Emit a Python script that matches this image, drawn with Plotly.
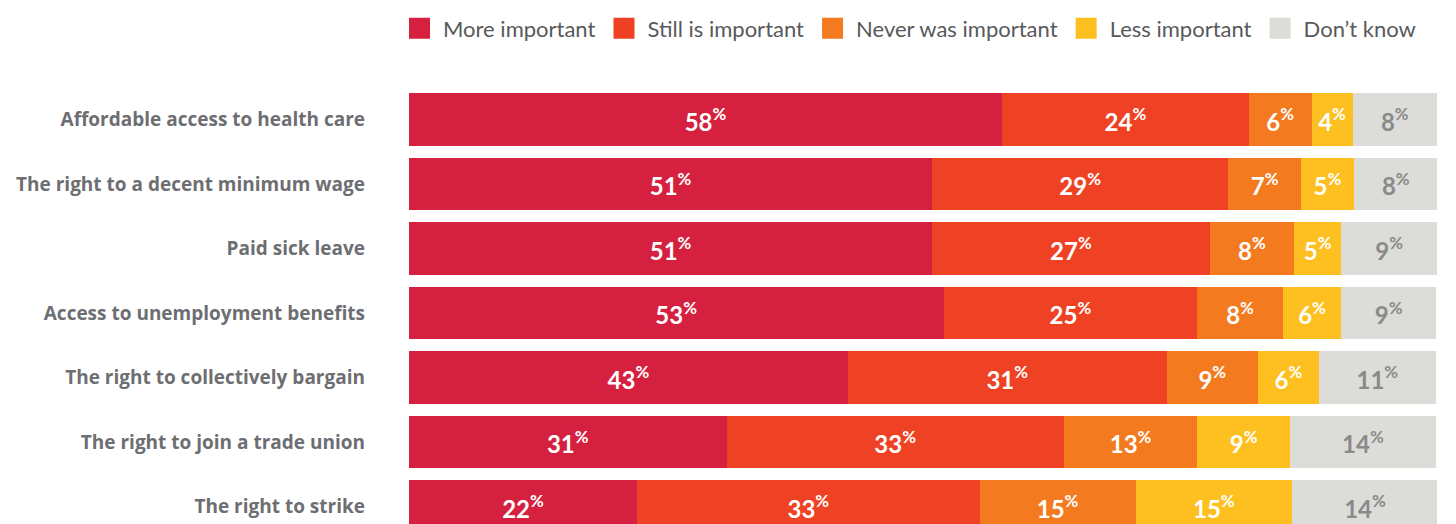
import plotly.graph_objects as go

categories = [
    "Affordable access to health care",
    "The right to a decent minimum wage",
    "Paid sick leave",
    "Access to unemployment benefits",
    "The right to collectively bargain",
    "The right to join a trade union",
    "The right to strike",
]

series_names = ["More important", "Still is important", "Never was important",
                "Less important", "Don\u2019t know"]

# segment widths (percent)
more_important = [57.7, 50.9, 50.9, 52.0, 42.7, 30.9, 22.2]
still_important = [24.0, 28.8, 27.0, 24.7, 31.0, 32.8, 33.3]
never_important = [6.1, 7.1, 8.2, 8.3, 8.9, 13.0, 15.2]
less_important = [4.0, 5.1, 4.6, 5.7, 5.9, 9.0, 15.2]
dont_know = [8.2, 8.2, 9.3, 9.2, 11.4, 14.2, 14.2]

# printed labels
more_labels = [58, 51, 51, 53, 43, 31, 22]
still_labels = [24, 29, 27, 25, 31, 33, 33]
never_labels = [6, 7, 8, 8, 9, 13, 15]
less_labels = [4, 5, 5, 6, 6, 9, 15]
dk_labels = [8, 8, 9, 9, 11, 14, 14]

colors = ["#D6203F", "#EF4123", "#F47A20", "#FDC020", "#DCDCD8"]
text_colors = ["#FFFFFF", "#FFFFFF", "#FFFFFF", "#FFFFFF", "#8A8A8A"]

series_values = [more_important, still_important, never_important, less_important, dont_know]
series_labels = [more_labels, still_labels, never_labels, less_labels, dk_labels]

ypos = list(range(len(categories)))
LABEL_SIZE = 24

fig = go.Figure()
for name, vals, labs, col, tcol in zip(series_names, series_values, series_labels, colors, text_colors):
    fig.add_trace(go.Bar(
        x=vals, y=ypos, orientation="h", name=name,
        marker=dict(color=col, line=dict(width=0)),
        text=[f"{v}<sup>%</sup>" for v in labs],
        textposition="inside", insidetextanchor="middle",
        textfont=dict(family="Lato", size=LABEL_SIZE, color=tcol, weight="bold"),
        width=0.82, showlegend=False, hoverinfo="skip",
    ))
    fig.add_trace(go.Scatter(
        x=[None], y=[None], mode="markers", name=name,
        marker=dict(symbol="square", size=16, color=col, line=dict(color=col, width=5)),
        showlegend=True,
    ))

fig.update_layout(
    width=1456, height=524,
    barmode="stack",
    plot_bgcolor="white", paper_bgcolor="white",
    margin=dict(l=401, r=27, t=79, b=0, pad=0, autoexpand=False),
    uniformtext=dict(minsize=LABEL_SIZE, mode="show"),
    showlegend=True,
    legend=dict(
        orientation="h", xref="container", yref="container",
        x=388 / 1456, y=1 - 20.5 / 524, xanchor="left", yanchor="middle",
        font=dict(family="Lato", size=22, color="#58595B"),
        itemsizing="trace", traceorder="normal", itemclick=False,
        itemwidth=37,
    ),
    xaxis=dict(range=[0, 100], visible=False, fixedrange=True),
    yaxis=dict(
        range=[6.395, -0.504],
        tickvals=ypos, ticktext=categories,
        tickfont=dict(family="Open Sans", size=19, color="#6D6E71", weight="bold"),
        showgrid=False, zeroline=False, showline=False, ticks="",
        ticklabelstandoff=43,
    ),
)

fig.write_html("out.html")
